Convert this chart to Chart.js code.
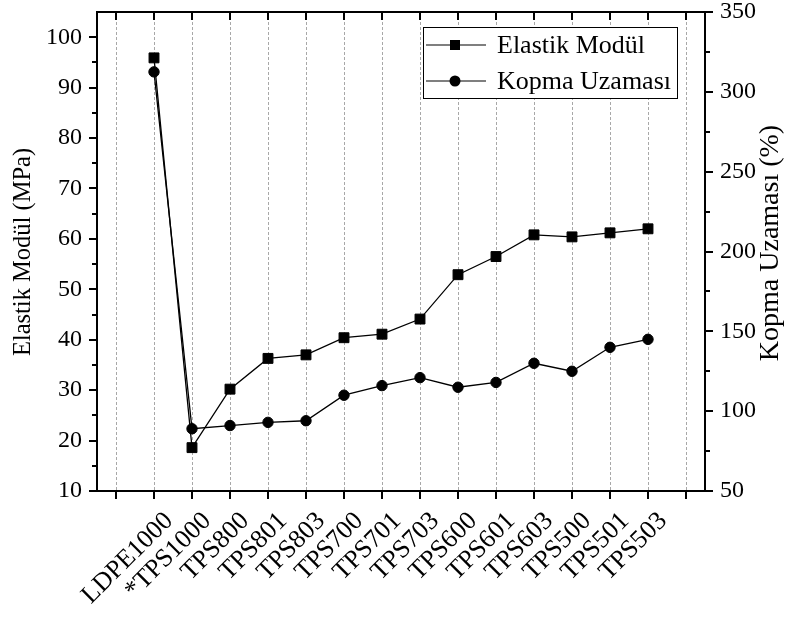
<!DOCTYPE html>
<html><head><meta charset="utf-8">
<script src="https://cdn.jsdelivr.net/npm/chart.js@4.4.0/dist/chart.umd.min.js"></script>
<style>html,body{margin:0;padding:0;background:#fff;}#wrap{width:785px;height:617px;position:relative;}</style>
</head><body><div id="wrap"><canvas id="c" width="785" height="617"></canvas></div>
<script>
const categories = ['LDPE1000','*TPS1000','TPS800','TPS801','TPS803','TPS700','TPS701','TPS703','TPS600','TPS601','TPS603','TPS500','TPS501','TPS503'];
const elastikModul = [95.9,18.6,30.2,36.3,37.0,40.4,41.1,44.1,52.9,56.5,60.8,60.4,61.2,62.0];
const kopmaUzamasi = [312.5,89,91,93,94,110,116,121,115,118,130,125,140,145];
const leftTicks = [10,20,30,40,50,60,70,80,90,100];
const leftMinor = [15,25,35,45,55,65,75,85,95];
const rightTicks = [50,100,150,200,250,300,350];
const rightMinor = [75,125,175,225,275,325];
const seriesNames = ['Elastik Modül','Kopma Uzaması'];
const axisTitles = ['Elastik Modül (MPa)','Kopma Uzaması (%)'];

const FONT = "'Liberation Serif','Times New Roman',serif";
const xLabels = [''].concat(categories, ['']);

const framePlugin = {
  id: 'frame',
  afterDraw(chart) {
    const ctx = chart.ctx, a = chart.chartArea;
    const sx = chart.scales.x, sy = chart.scales.y, sy2 = chart.scales.y2;
    ctx.save();
    ctx.strokeStyle = '#000';
    ctx.lineWidth = 2;
    ctx.beginPath();
    ctx.rect(a.left, a.top, a.right - a.left, a.bottom - a.top);
    ctx.stroke();
    ctx.beginPath();
    for (let i = 0; i < xLabels.length; i++) {
      const x = Math.round(sx.getPixelForValue(i));
      ctx.moveTo(x, a.bottom); ctx.lineTo(x, a.bottom + 8);
      ctx.moveTo(x, a.top); ctx.lineTo(x, a.top + 8);
    }
    leftTicks.forEach(v => { const y = Math.round(sy.getPixelForValue(v)); ctx.moveTo(a.left - 8, y); ctx.lineTo(a.left, y); });
    leftMinor.forEach(v => { const y = Math.round(sy.getPixelForValue(v)); ctx.moveTo(a.left - 5, y); ctx.lineTo(a.left, y); });
    rightTicks.forEach(v => { const y = Math.round(sy2.getPixelForValue(v)); ctx.moveTo(a.right, y); ctx.lineTo(a.right + 8, y); });
    rightMinor.forEach(v => { const y = Math.round(sy2.getPixelForValue(v)); ctx.moveTo(a.right, y); ctx.lineTo(a.right + 5, y); });
    ctx.stroke();

    // axis titles
    ctx.fillStyle = '#000';
    ctx.textAlign = 'center'; ctx.textBaseline = 'middle';
    ctx.font = '24.5px ' + FONT;
    ctx.save(); ctx.translate(24, 252); ctx.rotate(-Math.PI / 2); ctx.fillText(axisTitles[0], 0, 0); ctx.restore();
    ctx.font = '28px ' + FONT;
    ctx.save(); ctx.translate(771, 243); ctx.rotate(-Math.PI / 2); ctx.fillText(axisTitles[1], 0, 0); ctx.restore();

    // legend
    const lx = 423.5, ly = 27.5, lw = 254, lh = 71;
    ctx.fillStyle = '#fff'; ctx.fillRect(lx, ly, lw, lh);
    ctx.strokeStyle = '#000'; ctx.lineWidth = 1; ctx.strokeRect(lx, ly, lw, lh);
    const rows = [45, 81];
    ctx.font = '26px ' + FONT; ctx.textAlign = 'left'; ctx.textBaseline = 'middle';
    rows.forEach((ry, i) => {
      ctx.strokeStyle = '#000'; ctx.lineWidth = 1.2;
      ctx.beginPath(); ctx.moveTo(426, ry); ctx.lineTo(486, ry); ctx.stroke();
      ctx.fillStyle = '#000';
      if (i === 0) { ctx.fillRect(450, ry - 5, 10, 10); }
      else { ctx.beginPath(); ctx.arc(455, ry, 5.5, 0, Math.PI * 2); ctx.fill(); }
      ctx.fillText(seriesNames[i], 497, ry + 1);
    });
    ctx.restore();
  }
};

const fixV = w => s => { s.width = w; s.paddingTop = 0; s.paddingBottom = 0; };

new Chart(document.getElementById('c'), {
  type: 'line',
  data: {
    labels: xLabels,
    datasets: [
      {
        label: seriesNames[0],
        data: elastikModul.map((v, i) => ({x: categories[i], y: v})),
        yAxisID: 'y',
        borderColor: '#000', borderWidth: 1.3,
        pointStyle: 'rect', pointRadius: 7, pointBackgroundColor: '#000', pointBorderColor: '#000', pointBorderWidth: 1,
        tension: 0, fill: false
      },
      {
        label: seriesNames[1],
        data: kopmaUzamasi.map((v, i) => ({x: categories[i], y: v})),
        yAxisID: 'y2',
        borderColor: '#000', borderWidth: 1.3,
        pointStyle: 'circle', pointRadius: 5.2, pointBackgroundColor: '#000', pointBorderColor: '#000', pointBorderWidth: 1,
        tension: 0, fill: false
      }
    ]
  },
  options: {
    responsive: false, animation: false, devicePixelRatio: 1,
    layout: {padding: {top: 12, left: 0, right: 0, bottom: 0}},
    plugins: {legend: {display: false}, tooltip: {enabled: false}},
    scales: {
      x: {
        type: 'category', offset: true,
        grid: {offset: false, color: '#a8a8a8', lineWidth: 1, drawTicks: false, drawOnChartArea: true},
        border: {display: false, dash: [3, 2]},
        ticks: {autoSkip: false, minRotation: 45, maxRotation: 45, padding: 15, labelOffset: 15,
                color: '#000', font: {family: FONT, size: 26}},
        afterFit: s => { s.height = 126; s.paddingLeft = 0; s.paddingRight = 0; }
      },
      y: {
        position: 'left', min: 10, max: 105,
        grid: {drawOnChartArea: false, drawTicks: false},
        border: {display: false},
        ticks: {stepSize: 10, includeBounds: false, padding: 15, color: '#000', font: {family: FONT, size: 24, lineHeight: 1}},
        afterFit: fixV(97)
      },
      y2: {
        position: 'right', min: 50, max: 350,
        grid: {drawOnChartArea: false, drawTicks: false},
        border: {display: false},
        ticks: {stepSize: 50, padding: 15, color: '#000', font: {family: FONT, size: 24, lineHeight: 1}},
        afterFit: fixV(80)
      }
    }
  },
  plugins: [framePlugin]
});
</script></body></html>
